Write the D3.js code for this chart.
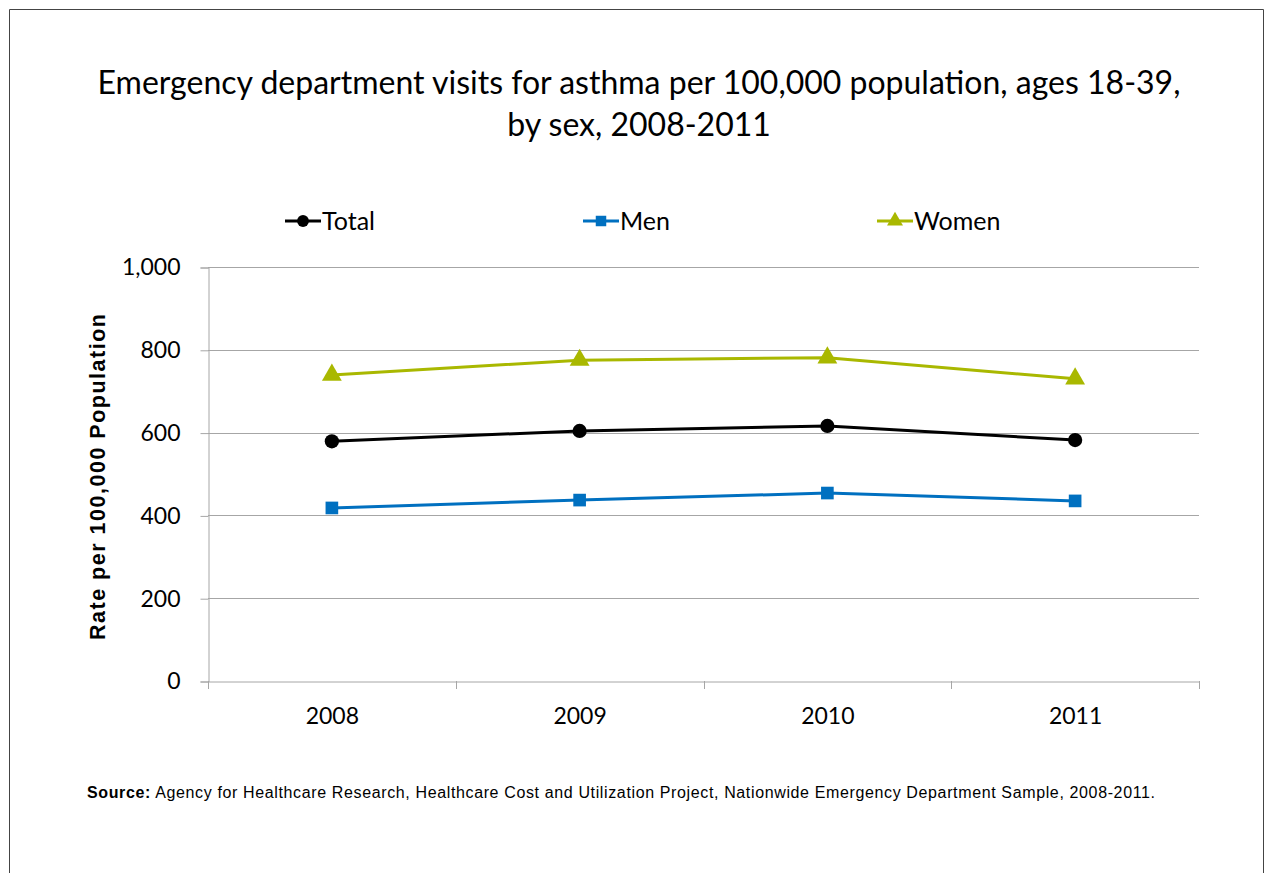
<!DOCTYPE html>
<html>
<head>
<meta charset="utf-8">
<script src="https://cdn.jsdelivr.net/npm/d3@7"></script>
<style>
  body { margin: 0; background: #fff; }
  svg { display: block; }
</style>
</head>
<body>
<svg id="chart" width="1264" height="873"></svg>
<script>
// data
var years = ['2008', '2009', '2010', '2011'];
var total = [579, 604, 616, 582];
var men = [418, 437, 454, 435];
var women = [739, 775, 781, 730];
var yTicks = [0, 200, 400, 600, 800, 1000];

var seriesNames = ['Total', 'Men', 'Women'];
var seriesColors = ['#000000', '#0070c0', '#a9b800'];
var seriesSymbols = [d3.symbolCircle, d3.symbolSquare, d3.symbolTriangle];

var svg = d3.select('#chart');
var font = 'Lato, "Open Sans", sans-serif';
var arial = '"Liberation Sans", Arial, sans-serif';

// outer frame (open at bottom)
svg.append('path')
    .attr('d', 'M9.5,873 V9.5 H1263.5 V873')
    .attr('fill', 'none')
    .attr('stroke', '#444')
    .attr('stroke-width', 1);

var title = svg.append('text')
    .attr('text-anchor', 'middle')
    .attr('font-family', font)
    .attr('font-size', 32)
    .attr('fill', '#000');
title.append('tspan').attr('x', 639).attr('y', 94)
    .text('Emergency department visits for asthma per 100,000 population, ages 18-39,');
title.append('tspan').attr('x', 639).attr('y', 136)
    .text('by sex, 2008-2011');

var plotL = 208, plotR = 1199, plotT = 267, plotB = 681;

var x = d3.scaleBand().domain(years).range([plotL, plotR]);
var y = d3.scaleLinear().domain([0, 1000]).range([plotB, plotT]);

// gridlines
svg.append('g').selectAll('line')
    .data(yTicks.filter(function (d) { return d > 0; }))
    .enter().append('line')
    .attr('x1', plotL).attr('x2', plotR)
    .attr('y1', function (d) { return Math.round(y(d)) + 0.5; })
    .attr('y2', function (d) { return Math.round(y(d)) + 0.5; })
    .attr('stroke', '#a6a6a6');

// y axis
var yAxis = svg.append('g')
    .attr('transform', 'translate(' + (plotL + 0.5) + ',0.5)')
    .call(d3.axisLeft(y).tickValues(yTicks).tickSize(8).tickPadding(20)
        .tickFormat(d3.format(',')));
yAxis.selectAll('line, path').attr('stroke', '#a6a6a6');
yAxis.selectAll('text').attr('font-family', font).attr('font-size', 23).attr('fill', '#000');

// x axis
var xAxis = svg.append('g')
    .attr('transform', 'translate(0.5,' + (plotB + 0.5) + ')')
    .call(d3.axisBottom(x).tickSize(0).tickPadding(26));
xAxis.select('.domain').attr('stroke', '#a6a6a6');
xAxis.selectAll('text').attr('font-family', font).attr('font-size', 23).attr('fill', '#000');
// category boundary ticks
svg.append('g').selectAll('line')
    .data(years.map(function (d) { return x(d); }).concat([plotR]))
    .enter().append('line')
    .attr('x1', function (d) { return Math.round(d) + 0.5; })
    .attr('x2', function (d) { return Math.round(d) + 0.5; })
    .attr('y1', plotB).attr('y2', plotB + 8)
    .attr('stroke', '#a6a6a6');

// y axis title
svg.append('text')
    .attr('transform', 'translate(105,' + ((plotT + plotB) / 2 + 3) + ') rotate(-90)')
    .attr('text-anchor', 'middle')
    .attr('font-family', arial)
    .attr('font-weight', 'bold')
    .attr('font-size', 21.5)
    .attr('textLength', 326)
    .attr('lengthAdjust', 'spacing')
    .text('Rate per 100,000 Population');

// series
var allSeries = [total, men, women];
var line = d3.line()
    .x(function (d, i) { return x(years[i]) + x.bandwidth() / 2; })
    .y(function (d) { return y(d); });

allSeries.forEach(function (vals, s) {
    var g = svg.append('g');
    g.append('path')
        .attr('d', line(vals))
        .attr('fill', 'none')
        .attr('stroke', seriesColors[s])
        .attr('stroke-width', 3);
    g.selectAll('path.pt')
        .data(vals)
        .enter().append('path')
        .attr('class', 'pt')
        .attr('d', d3.symbol().type(seriesSymbols[s]).size(s === 2 ? 170 : 160))
        .attr('transform', function (d, i) {
            return 'translate(' + (x(years[i]) + x.bandwidth() / 2) + ',' + y(d) + ')';
        })
        .attr('fill', seriesColors[s]);
});

// legend
var legendX = [285, 583, 877];
var legend = svg.append('g');
seriesNames.forEach(function (name, s) {
    var lg = legend.append('g').attr('transform', 'translate(' + legendX[s] + ',221)');
    lg.append('line').attr('x1', 0).attr('x2', 36)
        .attr('stroke', seriesColors[s]).attr('stroke-width', 3);
    lg.append('path')
        .attr('d', d3.symbol().type(seriesSymbols[s]).size(110))
        .attr('transform', 'translate(18,0)')
        .attr('fill', seriesColors[s]);
    lg.append('text')
        .attr('x', 37).attr('y', 9)
        .attr('font-family', font)
        .attr('font-size', 25)
        .text(name);
});

// source note
var src = svg.append('text')
    .attr('x', 87).attr('y', 798)
    .attr('font-family', arial)
    .attr('font-size', 16)
    .attr('textLength', 1068)
    .attr('lengthAdjust', 'spacing');
src.append('tspan').attr('font-weight', 'bold').text('Source:');
src.append('tspan').text(' Agency for Healthcare Research, Healthcare Cost and Utilization Project, Nationwide Emergency Department Sample, 2008-2011.');
</script>
</body>
</html>
